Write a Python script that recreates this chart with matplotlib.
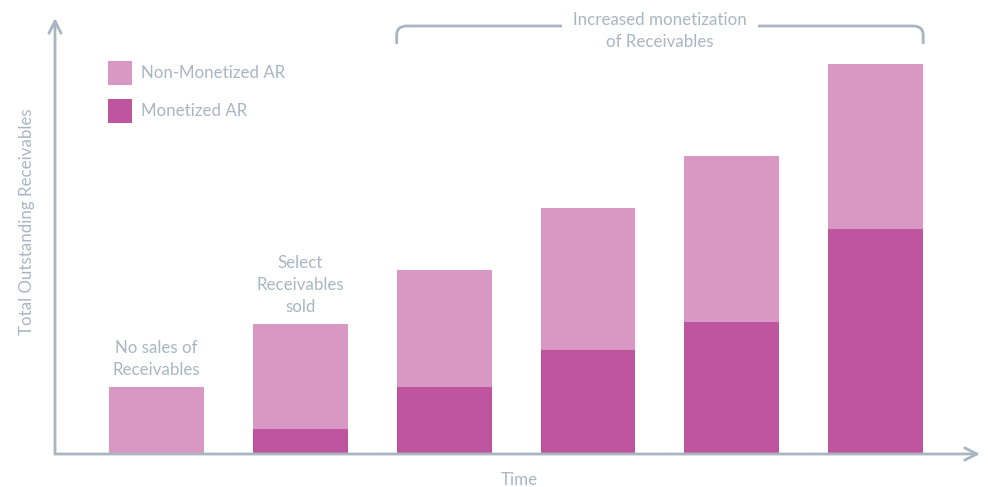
import matplotlib.pyplot as plt
from matplotlib.path import Path
from matplotlib.patches import PathPatch

plt.rcParams['font.family'] = ['Lato', 'DejaVu Sans']

periods = ['P1', 'P2', 'P3', 'P4', 'P5', 'P6']
monetized = [0, 25, 67, 104, 132, 225]
non_monetized = [67, 105, 117, 142, 166, 165]
bar_notes = {0: 'No sales of\nReceivables', 1: 'Select\nReceivables\nsold'}

light = '#d998c3'
dark = '#bf559f'
grey = '#a9b6c2'
fs = 12.2

fig = plt.figure(figsize=(9.88, 4.87), dpi=100)
ax = fig.add_axes([55 / 988, 33 / 487, 925 / 988, 436 / 487])

x = list(range(len(periods)))
w = 0.66
ax.bar(x, monetized, width=w, color=dark, label='Monetized AR', zorder=2)
ax.bar(x, non_monetized, width=w, bottom=monetized, color=light,
       label='Non-Monetized AR', zorder=2)

ax.set_xlim(-0.705, 5.725)
ax.set_ylim(0, 436)
for s in ax.spines.values():
    s.set_visible(False)
ax.set_xticks([])
ax.set_yticks([])

# axis arrows
arrow = dict(arrowstyle='->', color=grey, lw=2, mutation_scale=22,
             shrinkA=0, shrinkB=0)
ax.annotate('', xy=(1, 0), xytext=(0, 0), xycoords='axes fraction',
            arrowprops=arrow)
ax.annotate('', xy=(0, 1), xytext=(0, 0), xycoords='axes fraction',
            arrowprops=arrow)

fig.text(519 / 988, 1 - 480 / 487, 'Time', ha='center', va='center',
         color=grey, fontsize=fs)
fig.text(27 / 988, 1 - 222 / 487, 'Total Outstanding Receivables', rotation=90,
         ha='center', va='center', color=grey, fontsize=fs)

# notes above the first bars
for i, note in bar_notes.items():
    top = monetized[i] + non_monetized[i]
    ax.text(i, top + 9, note, ha='center', va='bottom', color=grey,
            fontsize=fs, linespacing=1.45)

# bracket over the monetized periods
x0, x1 = 2 - w / 2, 5 + w / 2
ytop, ybot = 428, 410
r = 0.07
verts = [(x0, ybot), (x0, ytop - 9), (x0, ytop), (x0 + r, ytop),
         (x1 - r, ytop), (x1, ytop), (x1, ytop - 9), (x1, ybot)]
codes = [Path.MOVETO, Path.LINETO, Path.CURVE3, Path.CURVE3,
         Path.LINETO, Path.CURVE3, Path.CURVE3, Path.LINETO]
ax.add_patch(PathPatch(Path(verts, codes), fill=False, edgecolor=grey, lw=2,
                       clip_on=False))
ax.text((x0 + x1) / 2, ytop - 5, 'Increased monetization\nof Receivables',
        ha='center', va='center', color=grey, fontsize=fs, linespacing=1.45,
        bbox=dict(facecolor='white', edgecolor='none', pad=8))

# legend drawn as squares
handles, labels = ax.get_legend_handles_labels()
leg = ax.legend(handles[::-1], labels[::-1], loc='upper left',
                bbox_to_anchor=(0.05, 0.918), frameon=False, fontsize=fs,
                handlelength=1.42, handleheight=1.8, labelspacing=0.85,
                handletextpad=0.5, borderaxespad=0)
for t in leg.get_texts():
    t.set_color(grey)

fig.savefig('out.png', dpi=100)
